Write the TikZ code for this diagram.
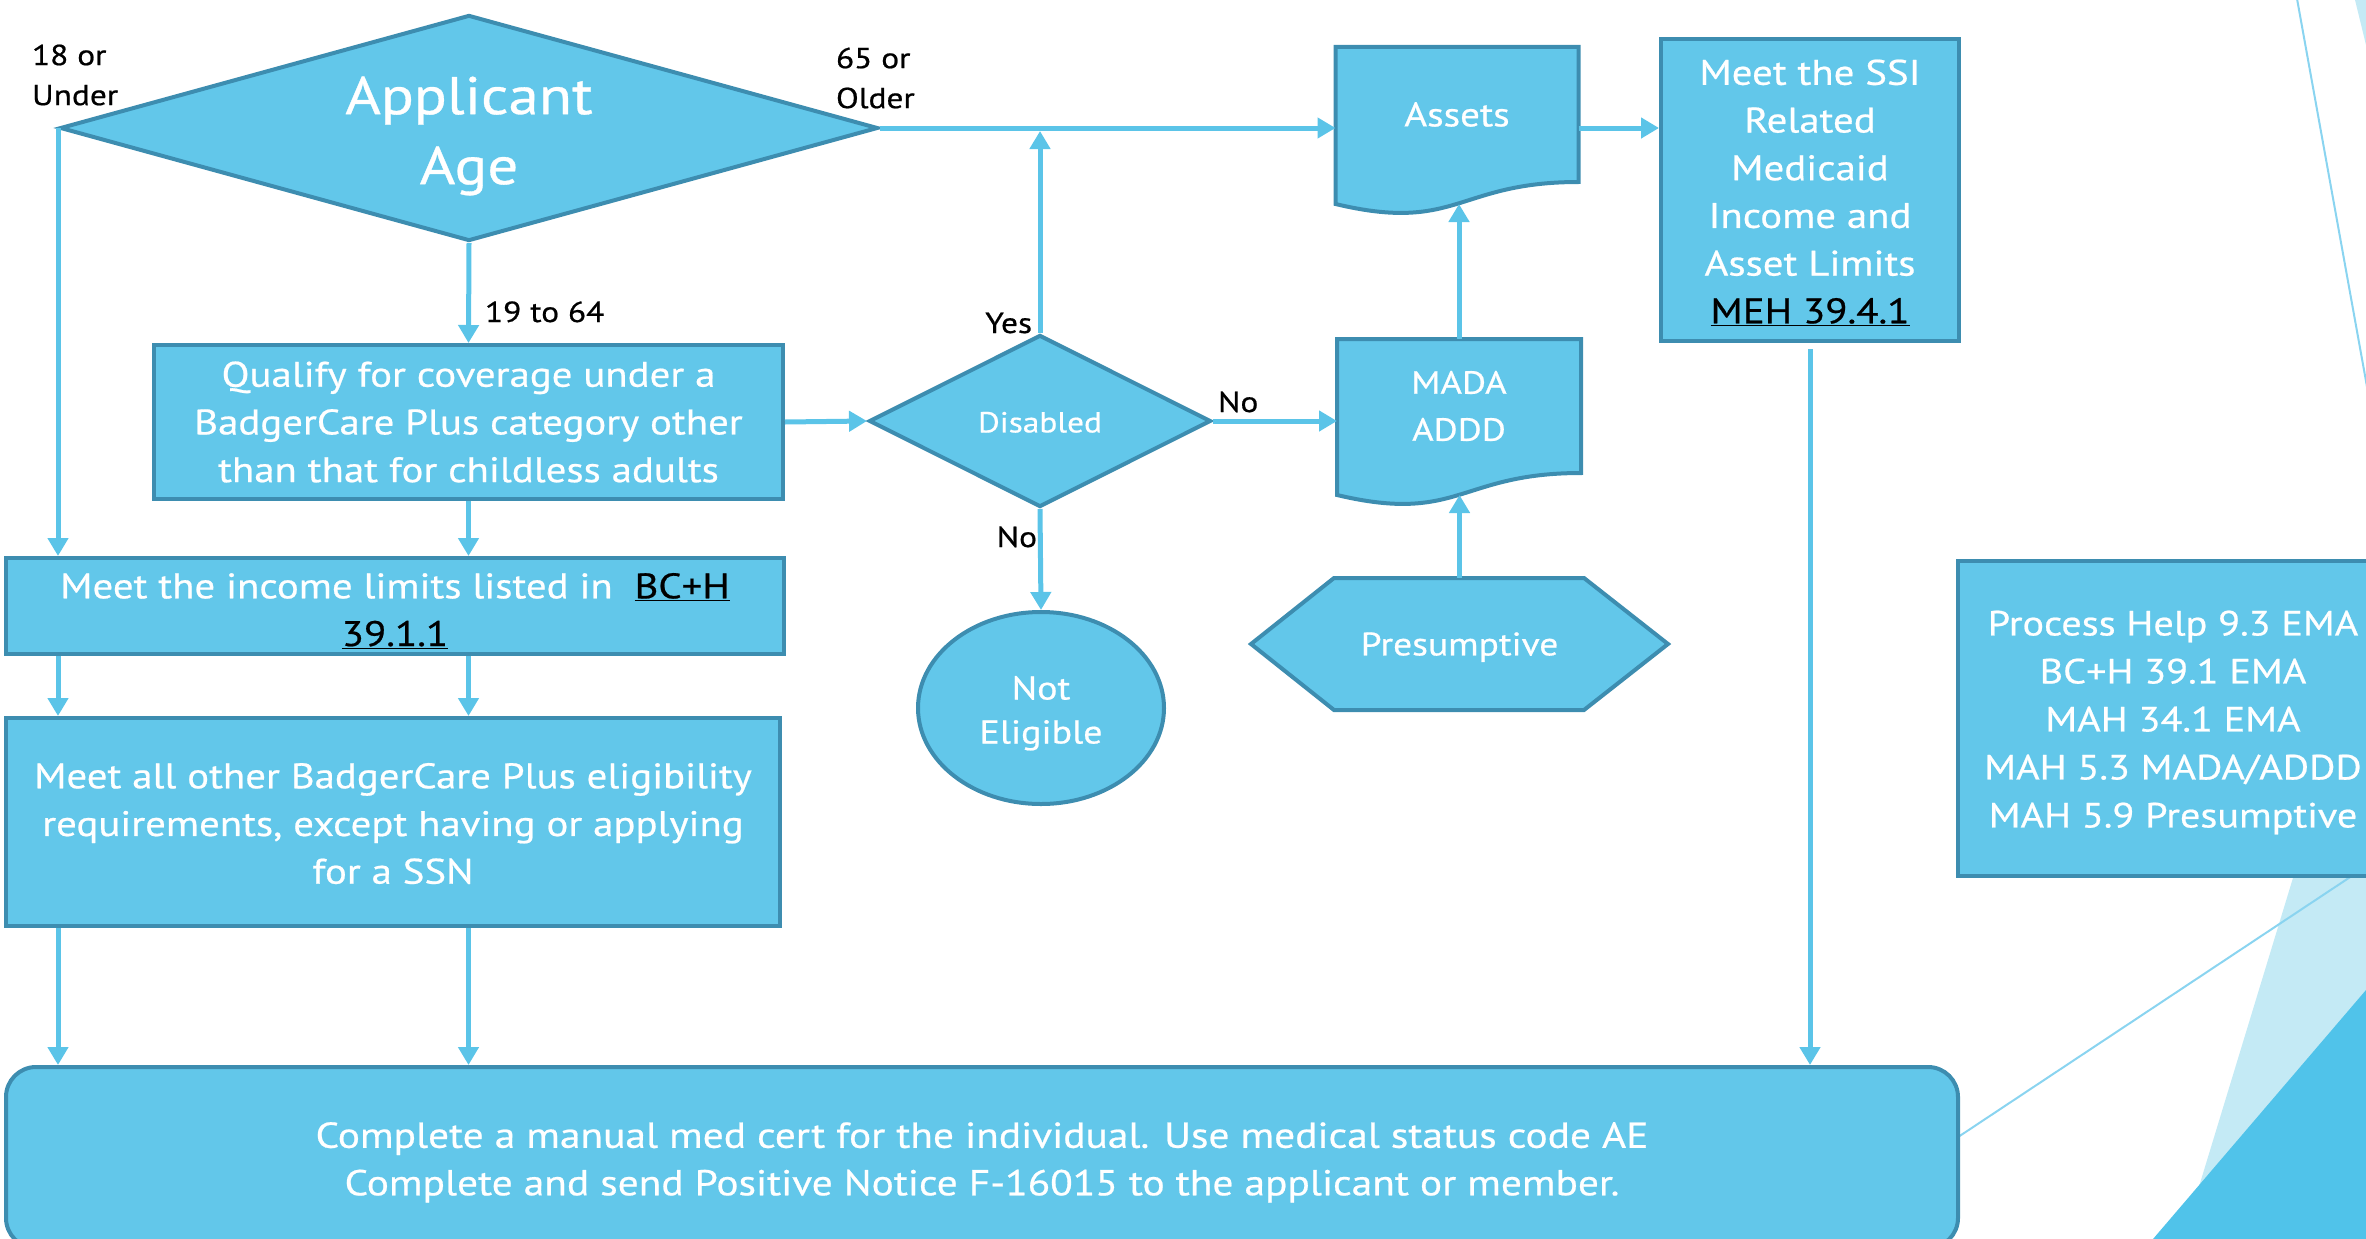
\documentclass[tikz,border=0pt]{standalone}
\usepackage{fontspec}
\setmainfont{PT Sans}[FakeStretch=1.15, FakeBold=0.6]
\usetikzlibrary{shapes.geometric, arrows.meta, calc}
\pgfdeclarelayer{background}
\pgfsetlayers{background,main}
\definecolor{nfill}{HTML}{62C7EA}
\definecolor{nline}{HTML}{3D8DB0}
\definecolor{arrc}{HTML}{5BC4E8}
\definecolor{decdark}{HTML}{50C3EA}
\definecolor{declight}{HTML}{C4EAF5}
\definecolor{decline}{HTML}{8AD4F0}
\newcommand\lnk[1]{\textcolor{black}{\underline{#1}}}
\newcommand\up[1]{\rule{0pt}{#1em}}
\begin{document}
\begin{tikzpicture}[x=1pt, y=-1pt,
  box/.style={draw=nline, fill=nfill, line width=4pt, text=white, align=center,
    inner sep=0pt, font={\fontsize{35.5}{47.7}\selectfont}},
  ghost/.style={inner sep=0pt, outer sep=0pt, text=white, align=center,
    font={\fontsize{34}{47}\selectfont}},
  shapeline/.style={draw=nline, fill=nfill, line width=4pt, line join=miter},
  arr/.style={draw=arrc, line width=5pt, -{Triangle[length=18pt,width=20pt]}},
  lab/.style={text=black, font={\fontsize{29}{40}\selectfont}, inner sep=0pt, outer sep=0pt},
]
\useasboundingbox (0,0) rectangle (2366,1239);
\clip (0,0) rectangle (2366,1239);

% nodes
\node[box, diamond, minimum width=818pt, minimum height=226pt, shape aspect=3.62,
  font={\fontsize{53}{70}\selectfont}] (app) at (469,128) {\up{1.01}Applicant\\Age};
\node[box, minimum width=629pt, minimum height=154pt] (qual) at (468.5,422)
  {Qualify for coverage under a\\BadgerCare Plus category other\\than that for childless adults};
\node[box, minimum width=778pt, minimum height=96pt] (income) at (395,606)
  {\up{0.98}Meet the income limits listed in\ \ \lnk{BC+H}\\\lnk{39.1.1}};
\node[box, minimum width=774pt, minimum height=208pt] (other) at (393,822)
  {\up{0.8}Meet all other BadgerCare Plus eligibility\\requirements, except having or applying\\for a SSN};
\node[box, minimum width=298pt, minimum height=302pt] (ssi) at (1810,190)
  {\up{0.86}Meet the SSI\\Related\\Medicaid\\Income and\\Asset Limits\\\lnk{MEH 39.4.1}};
\node[box, minimum width=430pt, minimum height=315pt, font={\fontsize{35}{48}\selectfont}] (proc) at (2173,718.5)
  {\up{0.94}Process Help 9.3 EMA\\BC+H 39.1 EMA\\MAH 34.1 EMA\\MAH 5.3 MADA/ADDD\\MAH 5.9 Presumptive};
\node[box, rounded corners=30pt, minimum width=1952pt, minimum height=181pt,
  font={\fontsize{36}{47.5}\selectfont}] (final) at (982,1157.5)
  {\up{0.98}Complete a manual med cert for the individual. Use medical status code AE\\Complete and send Positive Notice F-16015 to the applicant or member.};
\node[box, diamond, minimum width=342pt, minimum height=172pt, shape aspect=2,
  font={\fontsize{29}{38}\selectfont}] (dis) at (1040,421) {\up{0.8}Disabled};
\node[box, ellipse, minimum width=246pt, minimum height=192pt,
  font={\fontsize{33}{44}\selectfont}] (notel) at (1041,708) {\up{1.03}Not\\Eligible};
\node[ghost, minimum width=243pt, minimum height=135pt] (assets) at (1457,114.5) {Assets};
\node[ghost, minimum width=244pt, minimum height=134pt, font={\fontsize{32}{47}\selectfont}] (mada) at (1459,406) {MADA\\ADDD};
\node[ghost, minimum width=417pt, minimum height=132pt, font={\fontsize{32.6}{40}\selectfont}] (pres) at (1459.5,644) {\up{0.9}Presumptive};
\coordinate (assetsbot) at ($(assets.south)+(0,22)$);
\coordinate (madabot) at ($(mada.south)+(0,22)$);

% labels
\node[lab, anchor=west, align=left] (l18) at (32,75) {18 or\\Under};
\node[lab, anchor=west, align=left] (l65) at (836,78) {65 or\\Older};
\node[lab, anchor=base west] (l1964) at (485,322) {19 to 64};
\node[lab, anchor=base east] (lyes) at (1032,333) {Yes};
\node[lab, anchor=base west] (lno1) at (1218,412) {No};
\node[lab, anchor=base east] (lno2) at (1037,547) {No};

\begin{pgfonlayer}{background}
  % slide decorations
  \fill[declight] (2355,0) -- (2366,0) -- (2366,45) -- cycle;
  \fill[declight] (2183,1239) -- (2310,822) -- (2400,822) -- (2400,1239) -- cycle;
  \fill[decdark] (2153,1239) -- (2366,990) -- (2400,950) -- (2400,1239) -- cycle;
  \draw[decline, line width=2pt] (2290,-40) -- (2373,420);
  \draw[decline, line width=2pt] (1940,1149) -- (2400,844);
  % document shapes
  \draw[shapeline] (assets.north west) -- (assets.north east) -- (assets.south east)
    .. controls (assets.south) and ($(assets.south)+(0,51)$) .. ($(assets.south west)+(0,22)$) -- cycle;
  \draw[shapeline] (mada.north west) -- (mada.north east) -- (mada.south east)
    .. controls (mada.south) and ($(mada.south)+(0,51)$) .. ($(mada.south west)+(0,22)$) -- cycle;
  % hexagon
  \draw[shapeline] (pres.west) -- ($(pres.north west)+(83,0)$) -- ($(pres.north east)+(-84,0)$)
    -- (pres.east) -- ($(pres.south east)+(-84,0)$) -- ($(pres.south west)+(83,0)$) -- cycle;
\end{pgfonlayer}

% connectors
\draw[arr] (app.west) -- (app.west |- income.north);
\draw[arr] (app.south) -- (qual.north);
\draw[arr] (app.east) -- (app.east -| assets.west);
\draw[arr] (app.east -| assets.east) -- (app.east -| ssi.west);
\draw[arr] (qual.east) -- (dis.west);
\draw[arr] (dis.north) -- ($(dis.north |- app.east)+(0,3)$);
\draw[arr] (dis.east) -- (dis.east -| mada.west);
\draw[arr] (dis.south) -- (notel.north);
\draw[arr] (mada.north) -- (mada.north |- assetsbot);
\draw[arr] (pres.north) -- (pres.north |- madabot);
\draw[arr] (qual.south) -- (qual.south |- income.north);
\draw[arr] (app.west |- income.south) -- (app.west |- other.north);
\draw[arr] (qual.south |- income.south) -- (qual.south |- other.north);
\draw[arr] (app.west |- other.south) -- (app.west |- final.north);
\draw[arr] (qual.south |- other.south) -- (qual.south |- final.north);
\draw[arr] ($(ssi.south)+(0,6)$) -- (ssi.south |- final.north);
\end{tikzpicture}
\end{document}
